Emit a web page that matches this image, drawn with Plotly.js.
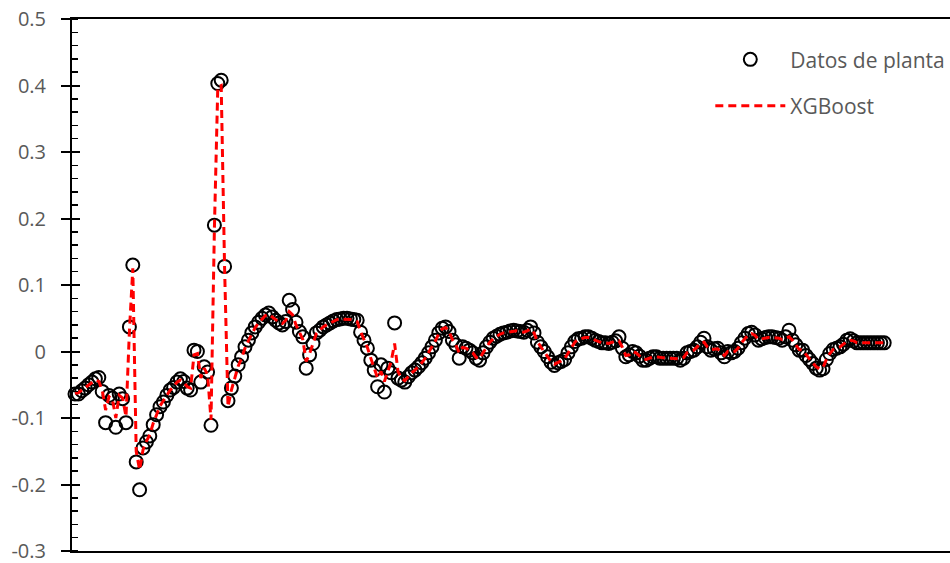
<!DOCTYPE html>
<html>
<head>
<meta charset="utf-8">
<script src="https://cdn.plot.ly/plotly-3.0.1.min.js"></script>
<style>html,body{margin:0;padding:0;background:#fff;}#chart{width:950px;height:563px;}</style>
</head>
<body>
<div id="chart"></div>
<script>
const seriesNames = ["Datos de planta", "XGBoost"];
const plantData = [-0.064,-0.064,-0.059,-0.055,-0.050,-0.046,-0.041,-0.039,-0.060,-0.107,
-0.066,-0.070,-0.114,-0.064,-0.071,-0.107,0.037,0.130,-0.166,-0.208,
-0.145,-0.136,-0.127,-0.110,-0.095,-0.083,-0.076,-0.066,-0.058,-0.054,
-0.046,-0.041,-0.045,-0.055,-0.058,0.002,0.000,-0.046,-0.023,-0.031,
-0.111,0.190,0.403,0.408,0.128,-0.074,-0.055,-0.037,-0.020,-0.008,
0.007,0.017,0.028,0.037,0.044,0.050,0.055,0.058,0.052,0.047,
0.043,0.040,0.045,0.077,0.063,0.044,0.030,0.022,-0.025,-0.005,
0.012,0.028,0.032,0.037,0.040,0.043,0.046,0.048,0.049,0.050,
0.050,0.049,0.048,0.047,0.029,0.017,0.005,-0.013,-0.028,-0.053,
-0.020,-0.061,-0.025,-0.032,0.043,-0.040,-0.043,-0.046,-0.038,-0.032,
-0.028,-0.023,-0.017,-0.010,-0.002,0.007,0.017,0.028,0.035,0.037,
0.030,0.017,0.010,-0.010,0.007,0.005,0.002,-0.002,-0.010,-0.013,
-0.002,0.007,0.014,0.020,0.023,0.026,0.028,0.029,0.031,0.032,
0.031,0.030,0.029,0.032,0.037,0.028,0.014,0.007,0.000,-0.008,
-0.016,-0.021,-0.017,-0.015,-0.012,-0.002,0.007,0.015,0.019,0.020,
0.022,0.022,0.020,0.017,0.015,0.013,0.013,0.012,0.014,0.016,
0.022,0.005,-0.008,-0.005,0.000,-0.002,-0.007,-0.013,-0.013,-0.010,
-0.008,-0.008,-0.010,-0.010,-0.010,-0.010,-0.010,-0.010,-0.013,-0.010,
-0.002,0.000,0.002,0.007,0.014,0.020,0.007,0.002,0.004,0.005,
-0.002,-0.008,0.000,-0.002,0.000,0.005,0.013,0.020,0.027,0.029,
0.025,0.017,0.019,0.021,0.022,0.022,0.021,0.020,0.017,0.022,
0.032,0.017,0.010,0.002,0.002,-0.006,-0.012,-0.018,-0.025,-0.028,
-0.026,-0.012,-0.003,0.003,0.005,0.007,0.011,0.017,0.019,0.016,
0.013,0.013,0.013,0.013,0.013,0.013,0.013,0.013,0.013];
const xgboostPred = [-0.063,-0.062,-0.058,-0.054,-0.050,-0.046,-0.043,-0.045,-0.058,-0.088,
-0.068,-0.072,-0.100,-0.066,-0.070,-0.098,0.030,0.125,-0.150,-0.178,
-0.148,-0.135,-0.125,-0.108,-0.094,-0.082,-0.074,-0.066,-0.058,-0.053,
-0.046,-0.043,-0.046,-0.053,-0.055,-0.005,-0.003,-0.040,-0.025,-0.035,
-0.103,0.185,0.398,0.400,0.125,-0.083,-0.058,-0.040,-0.022,-0.010,
0.005,0.016,0.027,0.036,0.043,0.049,0.054,0.056,0.052,0.047,
0.044,0.042,0.047,0.060,0.055,0.040,0.030,0.018,-0.015,-0.003,
0.012,0.027,0.032,0.037,0.040,0.043,0.046,0.048,0.049,0.049,
0.049,0.048,0.047,0.045,0.030,0.018,0.006,-0.010,-0.025,-0.040,
-0.030,-0.045,-0.030,-0.015,0.012,-0.030,-0.040,-0.044,-0.038,-0.032,
-0.028,-0.023,-0.017,-0.010,-0.002,0.007,0.016,0.027,0.034,0.036,
0.030,0.018,0.010,-0.002,0.006,0.005,0.002,-0.002,-0.009,-0.011,
-0.002,0.007,0.014,0.019,0.023,0.026,0.028,0.029,0.030,0.031,
0.031,0.030,0.029,0.031,0.034,0.028,0.015,0.007,0.000,-0.007,
-0.015,-0.019,-0.017,-0.014,-0.011,-0.002,0.007,0.014,0.018,0.020,
0.021,0.021,0.020,0.017,0.015,0.013,0.013,0.012,0.014,0.015,
0.016,0.006,-0.006,-0.005,0.000,-0.002,-0.006,-0.011,-0.012,-0.010,
-0.008,-0.008,-0.009,-0.010,-0.010,-0.010,-0.010,-0.010,-0.011,-0.009,
-0.002,0.000,0.002,0.007,0.013,0.014,0.007,0.003,0.004,0.004,
-0.001,-0.006,0.000,-0.001,0.000,0.005,0.013,0.019,0.025,0.027,
0.024,0.018,0.019,0.021,0.021,0.021,0.021,0.020,0.018,0.020,
0.022,0.017,0.010,0.003,0.002,-0.005,-0.011,-0.017,-0.023,-0.026,
-0.024,-0.012,-0.003,0.003,0.005,0.007,0.011,0.015,0.017,0.016,
0.013,0.013,0.013,0.013,0.013,0.013,0.013,0.013,0.013];
const yTickVals = [-0.3,-0.2,-0.1,0,0.1,0.2,0.3,0.4,0.5];
const yTickText = ["-0.3","-0.2","-0.1","0","0.1","0.2","0.3","0.4","0.5"];

const sampleIdx = plantData.map((_, i) => i + 1);
const FONT = "Open Sans, Noto Sans, sans-serif";

const traces = [
  {
    x: sampleIdx, y: plantData, name: seriesNames[0], type: "scatter", mode: "markers",
    marker: {symbol: "circle-open", size: 13, color: "#000", line: {width: 2, color: "#000"}},
    legendgroup: "a", cliponaxis: false
  },
  {
    x: sampleIdx, y: xgboostPred, name: seriesNames[1], type: "scatter", mode: "lines",
    line: {color: "#ff0000", width: 3, dash: "8px,5px"},
    legendgroup: "b"
  },
  {
    x: [1], y: [0], yaxis: "y2", type: "scatter", mode: "markers",
    marker: {opacity: 0}, showlegend: false, hoverinfo: "skip"
  }
];

const layout = {
  width: 950, height: 563,
  margin: {l: 72, r: 0, t: 19, b: 12, pad: 0, autoexpand: false},
  paper_bgcolor: "#fff", plot_bgcolor: "#fff",
  font: {family: FONT, color: "#595959", size: 20},
  showlegend: true,
  legend: {
    x: 0.727, y: 0.962, xanchor: "left", yanchor: "top",
    bgcolor: "rgba(0,0,0,0)", borderwidth: 0,
    font: {family: FONT, size: 21, color: "#595959"},
    itemwidth: 70, tracegroupgap: 16
  },
  xaxis: {
    range: [0.1176, 258.35], showgrid: false, zeroline: false, automargin: false,
    showticklabels: false, ticks: "", showline: true, mirror: true,
    linecolor: "#000", linewidth: 2
  },
  yaxis: {
    range: [-0.3, 0.5], showgrid: false, zeroline: false, automargin: false,
    tickmode: "array", tickvals: yTickVals, ticktext: yTickText,
    ticks: "outside", ticklen: 9, tickwidth: 2, tickcolor: "#000",
    ticklabelstandoff: 11, ticklabeloverflow: "allow",
    showline: true, linecolor: "#000", linewidth: 2,
    minor: {dtick: 0.02, tick0: 0, ticks: "inside", ticklen: 6, tickwidth: 1.5, tickcolor: "#000", showgrid: false},
    tickfont: {family: FONT, size: 20, color: "#595959"}
  },
  yaxis2: {
    overlaying: "y", side: "left", anchor: "x", range: [-0.3, 0.5], automargin: false,
    tickmode: "array", tickvals: yTickVals, showticklabels: false,
    ticks: "inside", ticklen: 8, tickwidth: 2, tickcolor: "#000",
    showgrid: false, zeroline: false, showline: false
  }
};

Plotly.newPlot("chart", traces, layout, {displayModeBar: false, staticPlot: true});
</script>
</body>
</html>
